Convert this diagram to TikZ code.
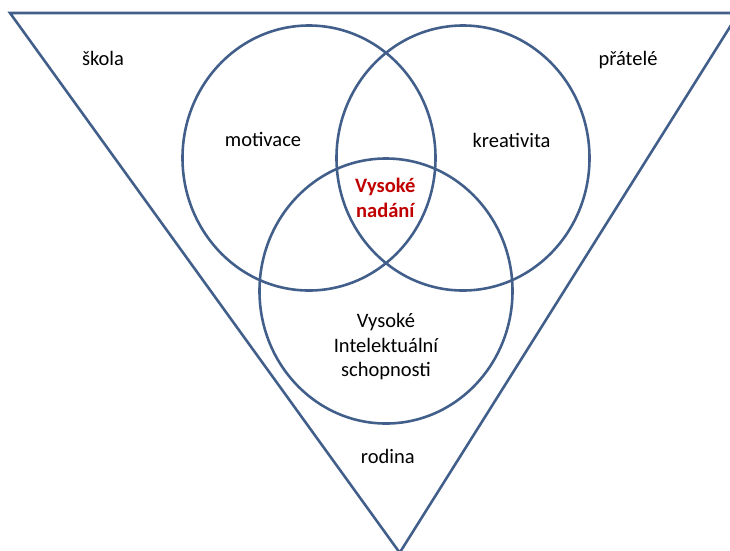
\documentclass[tikz,border=0pt]{standalone}
\usepackage{fontspec}
\setmainfont{Carlito}
\usepackage{xcolor}
\usepackage{tikz}
\usetikzlibrary{shapes.geometric}
\definecolor{vennblue}{RGB}{65,95,138}
\definecolor{giftred}{RGB}{192,0,0}
\tikzset{
venn/.style = {ellipse, draw=vennblue, line width=2.2pt, inner sep=0pt,
               minimum width=7.59cm, minimum height=7.95cm},
lbl/.style = {anchor=base, inner sep=0pt, align=center,
              font=\fontsize{17.5}{21}\selectfont}
}

\begin{document}
\begin{tikzpicture}[x=0.03cm, y=-0.03cm]
\useasboundingbox (0,0) rectangle (730,550);
\clip (0,0) rectangle (730,550);

\coordinate (tl) at (10,13);
\coordinate (tr) at (738.7,13);
\coordinate (apex) at (399.7,552.7);
\draw[vennblue, line width=2.2pt, line join=miter] (tl) -- (tr) -- (apex) -- cycle;

\node[venn] (motiv) at (309,158) {};
\node[venn] (kreat) at (463,158) {};
\node[venn] (intel) at (386,291) {};

% base anchor sits on the last line
\node[lbl] (skola) at (103,65) {škola};
\node[lbl] (pratele) at (628,65) {přátelé};
\node[lbl] (motivace) at (263,146.7) {motivace};
\node[lbl] (kreativita) at (511.5,147.7) {kreativita};
\node[lbl, text=giftred, font=\fontsize{17.5}{21}\selectfont\bfseries] (nadani) at (385.3,217.3) {Vysoké\\nadání};
\node[lbl] (schopnosti) at (386,376.7) {Vysoké\\Intelektuální\\schopnosti};
\node[lbl] (rodina) at (387.8,463.3) {rodina};
\end{tikzpicture}
\end{document}
